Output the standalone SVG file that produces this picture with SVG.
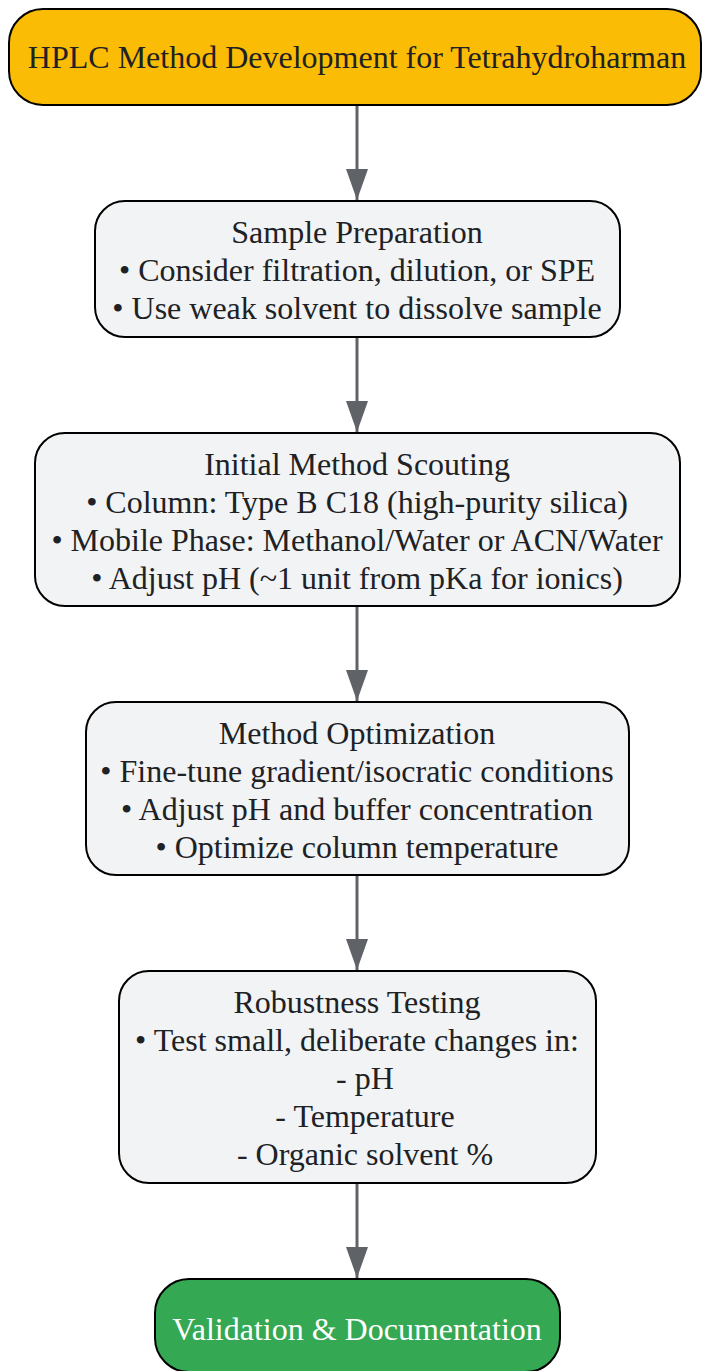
<svg xmlns="http://www.w3.org/2000/svg" width="702" height="1371" viewBox="0 0 702 1371">
<style>
.n{fill:#f1f3f4;stroke:#000;stroke-width:2}
.t{font-family:"Liberation Serif",serif;font-size:32px;fill:#202124;text-anchor:middle}
.w{fill:#fff}
.e{stroke:#5f6368;stroke-width:3;fill:none;marker-end:url(#a)}
</style>
<defs>
<marker id="a" markerWidth="32" markerHeight="24" refX="31" refY="12" orient="auto" markerUnits="userSpaceOnUse">
<path d="M0,1 L31,12 L0,23 Z" fill="#5f6368"/>
</marker>
</defs>
<g id="edges">
<path class="e" d="M357,105 V200"/>
<path class="e" d="M357,337 V432"/>
<path class="e" d="M357,606 V701"/>
<path class="e" d="M357,875 V970"/>
<path class="e" d="M357,1183 V1278"/>
</g>
<g id="n1">
<rect x="9" y="9" width="692" height="96" rx="34" fill="#fbbc05" stroke="#000" stroke-width="2"/>
<text class="t" x="357" y="68">HPLC Method Development for Tetrahydroharman</text>
</g>
<g id="n2">
<rect class="n" x="95" y="201" width="525" height="136" rx="30"/>
<text class="t" x="357" y="243">Sample Preparation</text>
<text class="t" x="357" y="281">• Consider filtration, dilution, or SPE</text>
<text class="t" x="357" y="319">• Use weak solvent to dissolve sample</text>
</g>
<g id="n3">
<rect class="n" x="35" y="433" width="645" height="173" rx="30"/>
<text class="t" x="357" y="475">Initial Method Scouting</text>
<text class="t" x="357" y="513">• Column: Type B C18 (high-purity silica)</text>
<text class="t" x="357" y="551">• Mobile Phase: Methanol/Water or ACN/Water</text>
<text class="t" x="357" y="589">• Adjust pH (~1 unit from pKa for ionics)</text>
</g>
<g id="n4">
<rect class="n" x="86" y="702" width="543" height="173" rx="30"/>
<text class="t" x="357" y="744">Method Optimization</text>
<text class="t" x="357" y="782">• Fine-tune gradient/isocratic conditions</text>
<text class="t" x="357" y="820">• Adjust pH and buffer concentration</text>
<text class="t" x="357" y="858">• Optimize column temperature</text>
</g>
<g id="n5">
<rect class="n" x="119" y="971" width="477" height="212" rx="30"/>
<text class="t" x="357" y="1013">Robustness Testing</text>
<text class="t" x="357" y="1051">• Test small, deliberate changes in:</text>
<text class="t" x="365" y="1089">- pH</text>
<text class="t" x="365" y="1127">- Temperature</text>
<text class="t" x="365" y="1165">- Organic solvent %</text>
</g>
<g id="n6">
<rect x="155" y="1279" width="405" height="93" rx="34" fill="#34a853" stroke="#000" stroke-width="2"/>
<text class="t w" x="357" y="1340">Validation &amp; Documentation</text>
</g>
</svg>
